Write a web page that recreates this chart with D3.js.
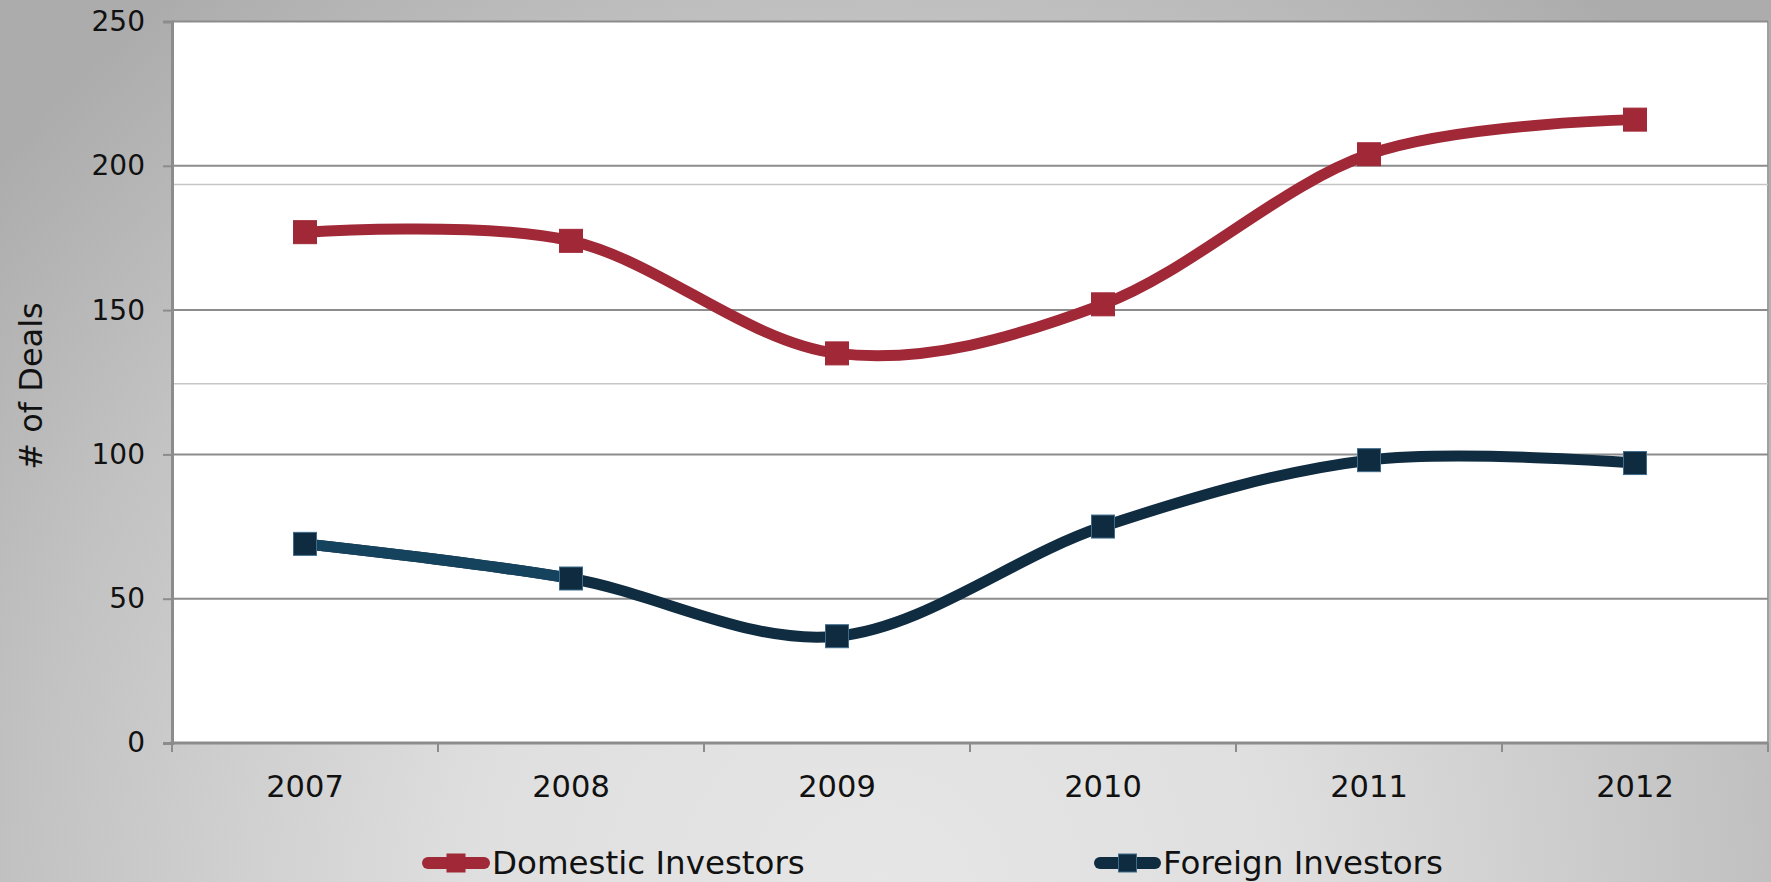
<!DOCTYPE html>
<html>
<head>
<meta charset="utf-8">
<script src="https://cdn.jsdelivr.net/npm/d3@7/dist/d3.min.js"></script>
<style>
  html, body { margin: 0; padding: 0; overflow: hidden; }
  svg { display: block; }
  text { font-family: "DejaVu Sans", Verdana, sans-serif; fill: #111; }
</style>
</head>
<body>
<svg id="chart" width="1771" height="882"></svg>
<script>
// Deals per year by investor origin
const years = ["2007", "2008", "2009", "2010", "2011", "2012"];
const domestic = [177, 174, 135, 152, 204, 216];
const foreign = [69, 57, 37, 75, 98, 97];
const yTicks = [0, 50, 100, 150, 200, 250];
const seriesNames = ["Domestic Investors", "Foreign Investors"];
// faint horizontal rules that run across the plot panel
const faintRules = [193.5, 124.5];

const W = 1771, H = 882;
const plot = { left: 172, top: 21.5, right: 1768, bottom: 743 };

const svg = d3.select("#chart");

// slide background: soft grey radial wash
const defs = svg.append("defs");
const bg = defs.append("radialGradient")
  .attr("id", "bgGrad")
  .attr("gradientUnits", "userSpaceOnUse")
  .attr("cx", 880).attr("cy", 900).attr("r", 1150);
[[0, "#e6e6e6"], [0.35, "#dfdfdf"], [0.75, "#c2c2c2"], [1, "#acacac"]]
  .forEach(([o, c]) => bg.append("stop").attr("offset", o).attr("stop-color", c));
svg.append("rect").attr("width", W).attr("height", H).attr("fill", "url(#bgGrad)");

const x = d3.scaleBand().domain(years).range([plot.left, plot.right]).padding(0);
const y = d3.scaleLinear().domain([0, 250]).range([plot.bottom, plot.top]);

// plot panel
svg.append("rect")
  .attr("x", plot.left).attr("y", plot.top)
  .attr("width", plot.right - plot.left).attr("height", plot.bottom - plot.top)
  .attr("fill", "#ffffff");
svg.append("line")
  .attr("x1", plot.right).attr("x2", plot.right)
  .attr("y1", plot.top).attr("y2", plot.bottom)
  .attr("stroke", "#a0a0a0").attr("stroke-width", 2);

// faint rules
svg.append("g").selectAll("line").data(faintRules).join("line")
  .attr("x1", plot.left).attr("x2", plot.right)
  .attr("y1", d => y(d)).attr("y2", d => y(d))
  .attr("stroke", "#c6c6c6").attr("stroke-width", 1.5);

// horizontal gridlines
svg.append("g").selectAll("line").data(yTicks.filter(t => t > 0)).join("line")
  .attr("x1", plot.left).attr("x2", plot.right)
  .attr("y1", d => y(d)).attr("y2", d => y(d))
  .attr("stroke", "#8c8c8c").attr("stroke-width", 2);

// y axis
const yAxis = svg.append("g")
  .attr("transform", `translate(${plot.left},0)`)
  .call(d3.axisLeft(y).tickValues(yTicks).tickSize(9).tickPadding(18).tickFormat(d3.format("d")));
yAxis.select(".domain").attr("stroke", "#8c8c8c").attr("stroke-width", 3);
yAxis.selectAll(".tick line").attr("stroke", "#8c8c8c").attr("stroke-width", 2);
yAxis.selectAll(".tick text")
  .style("font-family", "'DejaVu Sans', Verdana, sans-serif")
  .style("font-size", "28px").attr("fill", "#111");

// x axis: ticks sit on category boundaries, labels centred in each band
const xAxisG = svg.append("g");
xAxisG.append("line")
  .attr("x1", plot.left - 1.5).attr("x2", plot.right)
  .attr("y1", plot.bottom).attr("y2", plot.bottom)
  .attr("stroke", "#8c8c8c").attr("stroke-width", 3);
const bounds = years.map(d => x(d)).concat([x(years[years.length - 1]) + x.bandwidth()]);
xAxisG.selectAll("line.tk").data(bounds).join("line")
  .attr("class", "tk")
  .attr("x1", d => d).attr("x2", d => d)
  .attr("y1", plot.bottom).attr("y2", plot.bottom + 9)
  .attr("stroke", "#8c8c8c").attr("stroke-width", 2);
xAxisG.selectAll("text").data(years).join("text")
  .attr("x", d => x(d) + x.bandwidth() / 2)
  .attr("y", 797)
  .attr("text-anchor", "middle")
  .style("font-size", "30.5px")
  .text(d => d);

// y axis title
svg.append("text")
  .attr("transform", "translate(42,386) rotate(-90)")
  .attr("text-anchor", "middle")
  .style("font-size", "32px")
  .text("# of Deals");

// series
const cx = (d, i) => x(years[i]) + x.bandwidth() / 2;
const line = d3.line().x(cx).y(d => y(d)).curve(d3.curveCardinal.tension(0));

const series = [
  { name: seriesNames[0], values: domestic, stroke: "#a02837", fill: "#a02837", edge: "#a02837" },
  { name: seriesNames[1], values: foreign, stroke: "#102c41", fill: "#0f2b3f", edge: "#3f6c8c" }
];

const mk = 23;
series.forEach(s => {
  svg.append("path")
    .datum(s.values)
    .attr("d", line)
    .attr("fill", "none")
    .attr("stroke", s.stroke)
    .attr("stroke-width", 11)
    .attr("stroke-linejoin", "round");
});

// the foreign line's opening stretch is drawn in a lighter blue
defs.append("clipPath").attr("id", "firstSeg")
  .append("rect")
  .attr("x", 0).attr("y", 0)
  .attr("width", cx(null, 1)).attr("height", H);
svg.append("path")
  .datum(foreign)
  .attr("d", line)
  .attr("fill", "none")
  .attr("stroke", "#15435e")
  .attr("stroke-width", 11)
  .attr("clip-path", "url(#firstSeg)");

series.forEach(s => {
  svg.append("g").selectAll("rect").data(s.values).join("rect")
    .attr("x", (d, i) => cx(d, i) - mk / 2)
    .attr("y", d => y(d) - mk / 2)
    .attr("width", mk).attr("height", mk)
    .attr("fill", s.fill)
    .attr("stroke", s.edge).attr("stroke-width", 1);
});

// legend
const legend = [
  { s: series[0], x0: 422, x1: 490, tx: 492 },
  { s: series[1], x0: 1094, x1: 1161, tx: 1163 }
];
legend.forEach(l => {
  const g = svg.append("g");
  g.append("line")
    .attr("x1", l.x0 + 6).attr("x2", l.x1 - 6)
    .attr("y1", 863).attr("y2", 863)
    .attr("stroke", l.s.stroke).attr("stroke-width", 12)
    .attr("stroke-linecap", "round");
  const m = 18, c = (l.x0 + l.x1) / 2;
  g.append("rect")
    .attr("x", c - m / 2).attr("y", 863 - m / 2)
    .attr("width", m).attr("height", m)
    .attr("fill", l.s.fill).attr("stroke", l.s.edge).attr("stroke-width", 1);
  g.append("text")
    .attr("x", l.tx).attr("y", 874)
    .style("font-size", "32.5px")
    .text(l.s.name);
});
</script>
</body>
</html>
